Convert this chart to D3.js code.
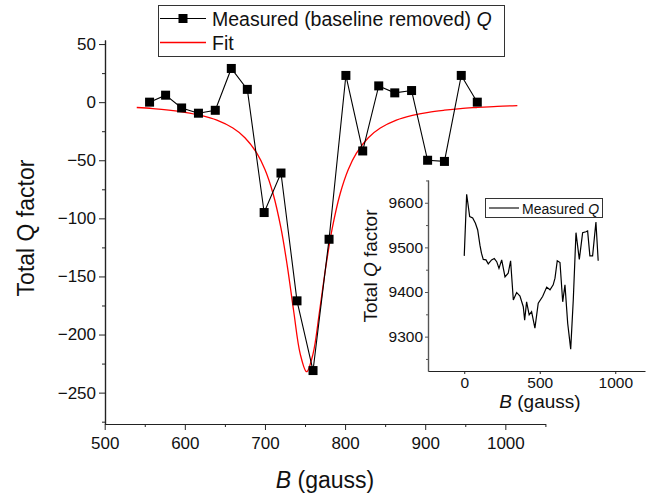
<!DOCTYPE html>
<html>
<head>
<meta charset="utf-8">
<script src="https://cdn.jsdelivr.net/npm/d3@7/dist/d3.min.js"></script>
<style>
  html, body { margin: 0; padding: 0; background: #fff; }
  svg { display: block; font-family: "Liberation Sans", Arial, sans-serif; }
</style>
</head>
<body>
<svg id="chart" width="654" height="500"></svg>
<script>
// ---- main chart data ----
const measB = [556, 576, 596, 617, 638, 658, 678, 699, 720, 740, 760, 780, 801, 822, 842, 862, 883, 903, 924, 945, 965];
const measQ = [0, 6, -5, -9.5, -7, 29, 11, -95, -61, -171, -231, -118, 23, -42, 14, 8, 10, -50, -51, 23, 0];

const fitB = [540, 560, 580, 600, 620, 640, 660, 675, 690, 700, 710, 720, 728, 736, 744, 752, 760, 768, 776, 784, 794, 804, 814, 829, 844, 864, 884, 904, 924, 944, 964, 990, 1015];
const fitQ = [-4.6, -5.5, -6.8, -8.7, -11.4, -15.5, -22.3, -30.6, -44, -57.9, -78.4, -108.5, -141.5, -180.6, -216.6, -232, -216.6, -180.6, -141.5, -108.5, -78.4, -57.9, -44, -30.6, -22.3, -15.5, -11.4, -8.7, -6.9, -5.5, -4.6, -3.6, -3];

const xTicks = [500, 600, 700, 800, 900, 1000];
const xMinor = [550, 650, 750, 850, 950, 1050];
const yTicks = [50, 0, -50, -100, -150, -200, -250];
const yMinor = [25, -25, -75, -125, -175, -225, -275];

// ---- inset data ----
const insB = [0, 16, 36, 56, 74, 89, 104, 114, 126, 144, 159, 181, 199, 215, 230, 248, 270, 291, 307, 325, 347, 369, 391, 400, 413, 430, 446, 468, 490, 519, 546, 568, 589, 601, 616, 634, 652, 667, 685, 705, 722, 740, 762, 784, 806, 817, 832, 850, 872, 887];
const insQ = [9481, 9619, 9569, 9566, 9554, 9539, 9505, 9487, 9473, 9472, 9463, 9472, 9475, 9468, 9453, 9472, 9434, 9442, 9470, 9382, 9399, 9391, 9367, 9337, 9378, 9349, 9356, 9319, 9375, 9390, 9411, 9405, 9416, 9431, 9470, 9466, 9378, 9416, 9330, 9272, 9382, 9533, 9473, 9533, 9535, 9537, 9481, 9481, 9557, 9470];

const insXTicks = [0, 500, 1000];
const insYTicks = [9300, 9400, 9500, 9600];
const insYMinor = [9250, 9350, 9450, 9550, 9650];

const svg = d3.select("#chart");
const axisColor = "#222";

// ---- main scales ----
const x = d3.scaleLinear().domain([500, 1050]).range([104.7, 545.4]);
const y = d3.scaleLinear().domain([53.5, -277]).range([40, 424]);

function styleAxis(g, color, fs) {
  g.select(".domain").attr("stroke", color).attr("stroke-width", 1.2);
  g.selectAll(".tick line").attr("stroke", color).attr("stroke-width", 1);
  g.selectAll(".tick text").attr("fill", "#111").style("font-size", fs + "px").style("font-family", '"Liberation Sans", Arial, sans-serif');
}

const gx = svg.append("g").attr("transform", "translate(0,424)")
  .call(d3.axisBottom(x).tickValues(xTicks).tickSize(6).tickSizeOuter(0).tickPadding(7).tickFormat(d3.format("d")));
styleAxis(gx, axisColor, 17);
const gxm = svg.append("g").attr("transform", "translate(0,424)")
  .call(d3.axisBottom(x).tickValues(xMinor).tickSize(3).tickSizeOuter(0).tickFormat(""));
styleAxis(gxm, axisColor, 17);

const gy = svg.append("g").attr("transform", "translate(105,0)")
  .call(d3.axisLeft(y).tickValues(yTicks).tickSize(6).tickSizeOuter(0).tickPadding(3));
styleAxis(gy, axisColor, 17);
const gym = svg.append("g").attr("transform", "translate(105,0)")
  .call(d3.axisLeft(y).tickValues(yMinor).tickSize(3).tickSizeOuter(0).tickFormat(""));
styleAxis(gym, axisColor, 17);

// axis titles
svg.append("text").attr("x", 325).attr("y", 488).attr("text-anchor", "middle")
  .style("font-size", "23px").attr("fill", "#111")
  .html('<tspan font-style="italic">B</tspan> (gauss)');
svg.append("text").attr("transform", "translate(34,228) rotate(-90)").attr("text-anchor", "middle")
  .style("font-size", "23px").attr("fill", "#111")
  .text("Total Q factor");

// fit line
const fitData = fitB.map((b, i) => [b, fitQ[i]]);
svg.append("path").datum(fitData)
  .attr("fill", "none").attr("stroke", "#ff0000").attr("stroke-width", 1.3)
  .attr("d", d3.line().x(d => x(d[0])).y(d => y(d[1])).curve(d3.curveCatmullRom.alpha(0.5)));

// measured line + squares
const measData = measB.map((b, i) => [b, measQ[i]]);
svg.append("path").datum(measData)
  .attr("fill", "none").attr("stroke", "#000").attr("stroke-width", 1.1)
  .attr("d", d3.line().x(d => x(d[0])).y(d => y(d[1])));
const sq = 9;
svg.selectAll("rect.pt").data(measData).enter().append("rect")
  .attr("class", "pt")
  .attr("x", d => x(d[0]) - sq / 2).attr("y", d => y(d[1]) - sq / 2)
  .attr("width", sq).attr("height", sq).attr("fill", "#000");

// main legend
const lg = svg.append("g");
lg.append("rect").attr("x", 158.5).attr("y", 5.5).attr("width", 346).attr("height", 51)
  .attr("fill", "#fff").attr("stroke", "#333").attr("stroke-width", 1);
lg.append("line").attr("x1", 160).attr("x2", 206).attr("y1", 18.5).attr("y2", 18.5).attr("stroke", "#000").attr("stroke-width", 1.1);
lg.append("rect").attr("x", 183 - sq / 2).attr("y", 18.5 - sq / 2).attr("width", sq).attr("height", sq).attr("fill", "#000");
lg.append("text").attr("x", 212).attr("y", 26).style("font-size", "19.5px").attr("fill", "#111")
  .html('Measured (baseline removed) <tspan font-style="italic">Q</tspan>');
lg.append("line").attr("x1", 160).attr("x2", 206).attr("y1", 42.5).attr("y2", 42.5).attr("stroke", "#ff0000").attr("stroke-width", 1.3);
lg.append("text").attr("x", 212).attr("y", 49.5).style("font-size", "19.5px").attr("fill", "#111").text("Fit");

// ---- inset ----
const ix = d3.scaleLinear().domain([-240, 1197]).range([428, 645]);
const iy = d3.scaleLinear().domain([9223, 9651]).range([371, 180]);

const igx = svg.append("g").attr("transform", "translate(0,371)")
  .call(d3.axisBottom(ix).tickValues(insXTicks).tickSize(3).tickSizeOuter(0).tickPadding(3).tickFormat(d3.format("d")));
styleAxis(igx, axisColor, 15.5);
const igy = svg.append("g").attr("transform", "translate(428,0)")
  .call(d3.axisLeft(iy).tickValues(insYTicks).tickSize(3).tickSizeOuter(0).tickPadding(2).tickFormat(d3.format("d")));
styleAxis(igy, "#555", 15.5);
const igym = svg.append("g").attr("transform", "translate(428,0)")
  .call(d3.axisLeft(iy).tickValues(insYMinor).tickSize(2).tickSizeOuter(0).tickFormat(""));
styleAxis(igym, "#555", 15.5);

svg.append("text").attr("x", 540).attr("y", 408).attr("text-anchor", "middle")
  .style("font-size", "19px").attr("fill", "#111")
  .html('<tspan font-style="italic">B</tspan> (gauss)');
svg.append("text").attr("transform", "translate(377,266) rotate(-90)").attr("text-anchor", "middle")
  .style("font-size", "19px").attr("fill", "#111")
  .html('Total <tspan font-style="italic">Q</tspan> factor');

const insData = insB.map((b, i) => [b, insQ[i]]);
svg.append("path").datum(insData)
  .attr("fill", "none").attr("stroke", "#000").attr("stroke-width", 1.2)
  .attr("d", d3.line().x(d => ix(d[0])).y(d => iy(d[1])));

// inset legend
const il = svg.append("g");
il.append("rect").attr("x", 485.5).attr("y", 198.5).attr("width", 117).attr("height", 19)
  .attr("fill", "#fff").attr("stroke", "#333").attr("stroke-width", 1);
il.append("line").attr("x1", 489).attr("x2", 519).attr("y1", 208).attr("y2", 208).attr("stroke", "#000").attr("stroke-width", 1.1);
il.append("text").attr("x", 522).attr("y", 213.5).style("font-size", "14px").attr("fill", "#111")
  .html('Measured <tspan font-style="italic">Q</tspan>');
</script>
</body>
</html>
